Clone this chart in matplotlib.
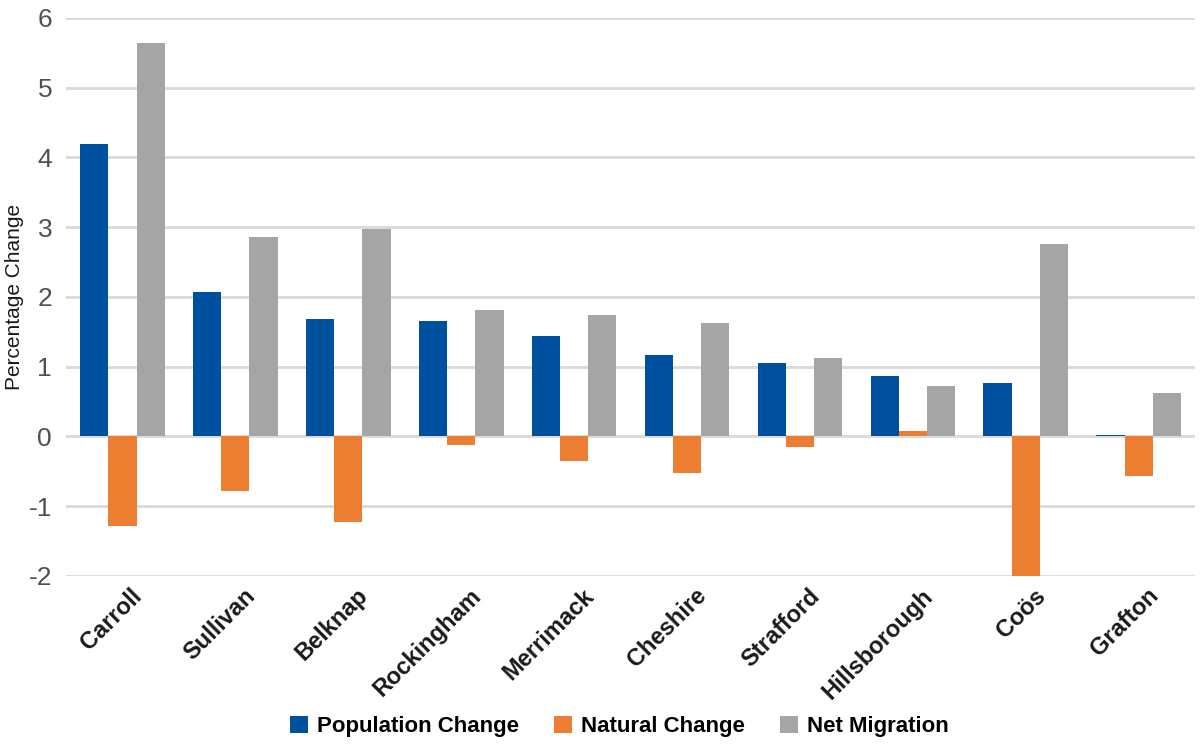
import matplotlib
matplotlib.use('Agg')
import matplotlib.pyplot as plt
import matplotlib.transforms as mtransforms
import numpy as np

plt.rcParams['font.family'] = ['Liberation Sans Narrow', 'Liberation Sans', 'DejaVu Sans']

# Data
counties = ['Carroll', 'Sullivan', 'Belknap', 'Rockingham', 'Merrimack',
            'Cheshire', 'Strafford', 'Hillsborough', 'Coös', 'Grafton']
population_change = [4.19, 2.07, 1.68, 1.66, 1.44, 1.17, 1.05, 0.86, 0.77, 0.02]
natural_change = [-1.29, -0.78, -1.23, -0.13, -0.36, -0.52, -0.15, 0.08, -2.05, -0.57]
net_migration = [5.64, 2.86, 2.98, 1.81, 1.74, 1.62, 1.13, 0.72, 2.76, 0.62]

fig = plt.figure(figsize=(12, 7.45), dpi=100)
ax = fig.add_axes([0.055, 0.227, 0.941, 0.749])

x = np.arange(len(counties))
w = 0.25
ax.bar(x - w, population_change, w, color='#0050A0', label='Population Change', zorder=3)
ax.bar(x, natural_change, w, color='#ED7D31', label='Natural Change', zorder=3)
ax.bar(x + w, net_migration, w, color='#A5A5A5', label='Net Migration', zorder=3)

ax.set_xlim(-0.5, len(counties) - 0.5)
ax.set_ylim(-2, 6)
ax.set_yticks(range(-2, 7))
ax.set_yticklabels([str(v) for v in range(-2, 7)])
ax.grid(axis='y', color='#D9D9D9', linewidth=2, zorder=0)
for s in ax.spines.values():
    s.set_visible(False)
ax.tick_params(axis='both', length=0)
ax.tick_params(axis='y', labelsize=19, labelcolor='#505050', pad=10)

ax.set_xticks(x)
ax.set_xticklabels(counties, rotation=45, ha='right', rotation_mode='anchor',
                   fontsize=17, fontweight='bold', color='#1a1a1a')
ax.tick_params(axis='x', pad=6)
shift = mtransforms.ScaledTranslation(8 / 100, 0, fig.dpi_scale_trans)
for lab in ax.get_xticklabels():
    lab.set_transform(lab.get_transform() + shift)

ax.set_ylabel('Percentage Change', fontsize=15, color='#1a1a1a')
ax.yaxis.set_label_coords(-0.037, 0.5)

ax.legend(loc='upper center', bbox_to_anchor=(0.49, -0.215), ncol=3, frameon=False,
          prop={'size': 16, 'weight': 'bold'}, handlelength=0.8, handleheight=0.8,
          handletextpad=0.4, columnspacing=1.6)

fig.savefig('out.png', dpi=100)
